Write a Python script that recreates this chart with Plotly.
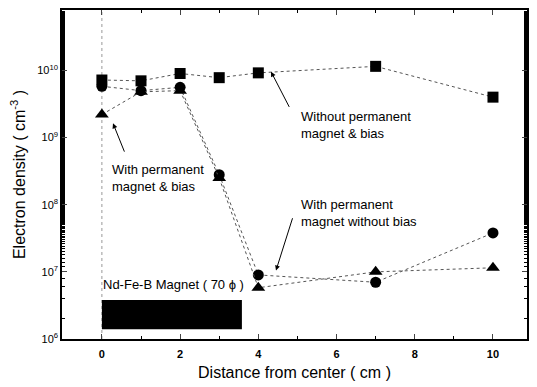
import plotly.graph_objects as go

distance = [0, 1, 2, 3, 4, 7, 10]
without_magnet_bias = [7.2e9, 7.0e9, 9.0e9, 7.8e9, 9.2e9, 1.15e10, 4.0e9]
with_magnet_no_bias = [5.8e9, 5.0e9, 5.6e9, 2.8e8, 9.0e6, 7.0e6, 3.8e7]
with_magnet_bias = [2.2e9, 4.8e9, 5.0e9, 2.5e8, 5.8e6, 1.0e7, 1.15e7]

xticks = [0, 2, 4, 6, 8, 10]
xtick_labels = ["<b>0</b>", "<b>2</b>", "<b>4</b>", "<b>6</b>", "<b>8</b>", "<b>10</b>"]
yticks = [1e6, 1e7, 1e8, 1e9, 1e10]
ytick_labels = ["10<sup>6</sup>", "10<sup>7</sup>", "10<sup>8</sup>", "10<sup>9</sup>", "10<sup>10</sup>"]

font_family = "Liberation Sans, Arial, sans-serif"
line_style = dict(color="#555", width=1, dash="dot")

fig = go.Figure()
fig.add_trace(go.Scatter(x=distance, y=without_magnet_bias, mode="lines+markers",
                         line=line_style, marker=dict(symbol="square", size=11, color="black")))
fig.add_trace(go.Scatter(x=distance, y=with_magnet_no_bias, mode="lines+markers",
                         line=line_style, marker=dict(symbol="circle", size=11, color="black")))
fig.add_trace(go.Scatter(x=distance, y=with_magnet_bias, mode="lines+markers",
                         line=line_style, marker=dict(symbol="triangle-up", size=12, color="black")))

# vertical dotted line at center
fig.add_shape(type="line", x0=0, x1=0, y0=0, y1=1, yref="paper", xref="x",
              line=dict(color="#999", width=1, dash="dot"), layer="below")
# magnet rectangle
fig.add_shape(type="rect", x0=0, x1=3.58, y0=1.4e6, y1=3.8e6, xref="x", yref="y",
              fillcolor="black", line=dict(color="black", width=0))

ann_font = dict(family=font_family, size=13, color="black")
fig.add_annotation(x=-0.02, y=6.81, xref="x", yref="y", text="Nd-Fe-B Magnet ( 70 ϕ )",
                   showarrow=False, xanchor="left", yanchor="middle", font=ann_font)
fig.add_annotation(x=0.2, y=8.40, xref="x", yref="y", text="With permanent<br>magnet & bias",
                   showarrow=False, xanchor="left", yanchor="middle", font=ann_font, align="left")
fig.add_annotation(x=5.05, y=9.18, xref="x", yref="y", text="Without permanent<br>magnet & bias",
                   showarrow=False, xanchor="left", yanchor="middle", font=ann_font, align="left")
fig.add_annotation(x=5.05, y=7.87, xref="x", yref="y", text="With permanent<br>magnet without bias",
                   showarrow=False, xanchor="left", yanchor="middle", font=ann_font, align="left")

arrows = [((125, 152), (113, 122)), ((290, 107), (271, 70)), ((293, 216), (276, 270))]
for (tx, ty), (hx, hy) in arrows:
    fig.add_annotation(x=(hx - 62) / 465, y=1 - (hy - 8) / 331,
                       xref="x domain", yref="y domain",
                       ax=(tx - 62) / 465, ay=1 - (ty - 8) / 331,
                       axref="x domain", ayref="y domain",
                       text="", showarrow=True, arrowhead=2, arrowsize=1, arrowwidth=1,
                       arrowcolor="black")

fig.update_layout(
    width=537, height=387,
    margin=dict(l=62, r=10, t=8, b=48),
    plot_bgcolor="white", paper_bgcolor="white",
    showlegend=False,
    font=dict(family=font_family, color="black"),
)
fig.update_xaxes(range=[-1.02, 10.87], tickvals=xticks, ticktext=xtick_labels,
                 ticks="inside", ticklen=5, ticklabelstandoff=4,
                 minor=dict(dtick=1, ticks="inside", ticklen=3, tickcolor="black"),
                 showgrid=False, zeroline=False, showline=True, linecolor="black", linewidth=1.5,
                 mirror="ticks", tickfont=dict(size=11),
                 title=dict(text="Distance from center ( cm )", font=dict(size=16), standoff=8))
fig.update_yaxes(type="log", range=[6, 10.9], tickvals=yticks, ticktext=ytick_labels,
                 ticks="inside", ticklen=5,
                 minor=dict(ticks="inside", ticklen=3, tickcolor="black", showgrid=False),
                 showgrid=False, zeroline=False, showline=True, linecolor="black", linewidth=1.5,
                 mirror="ticks", tickfont=dict(size=11),
                 title=dict(text="Electron density ( cm<sup>-3</sup> )", font=dict(size=16), standoff=8))

fig.write_html("out.html")
